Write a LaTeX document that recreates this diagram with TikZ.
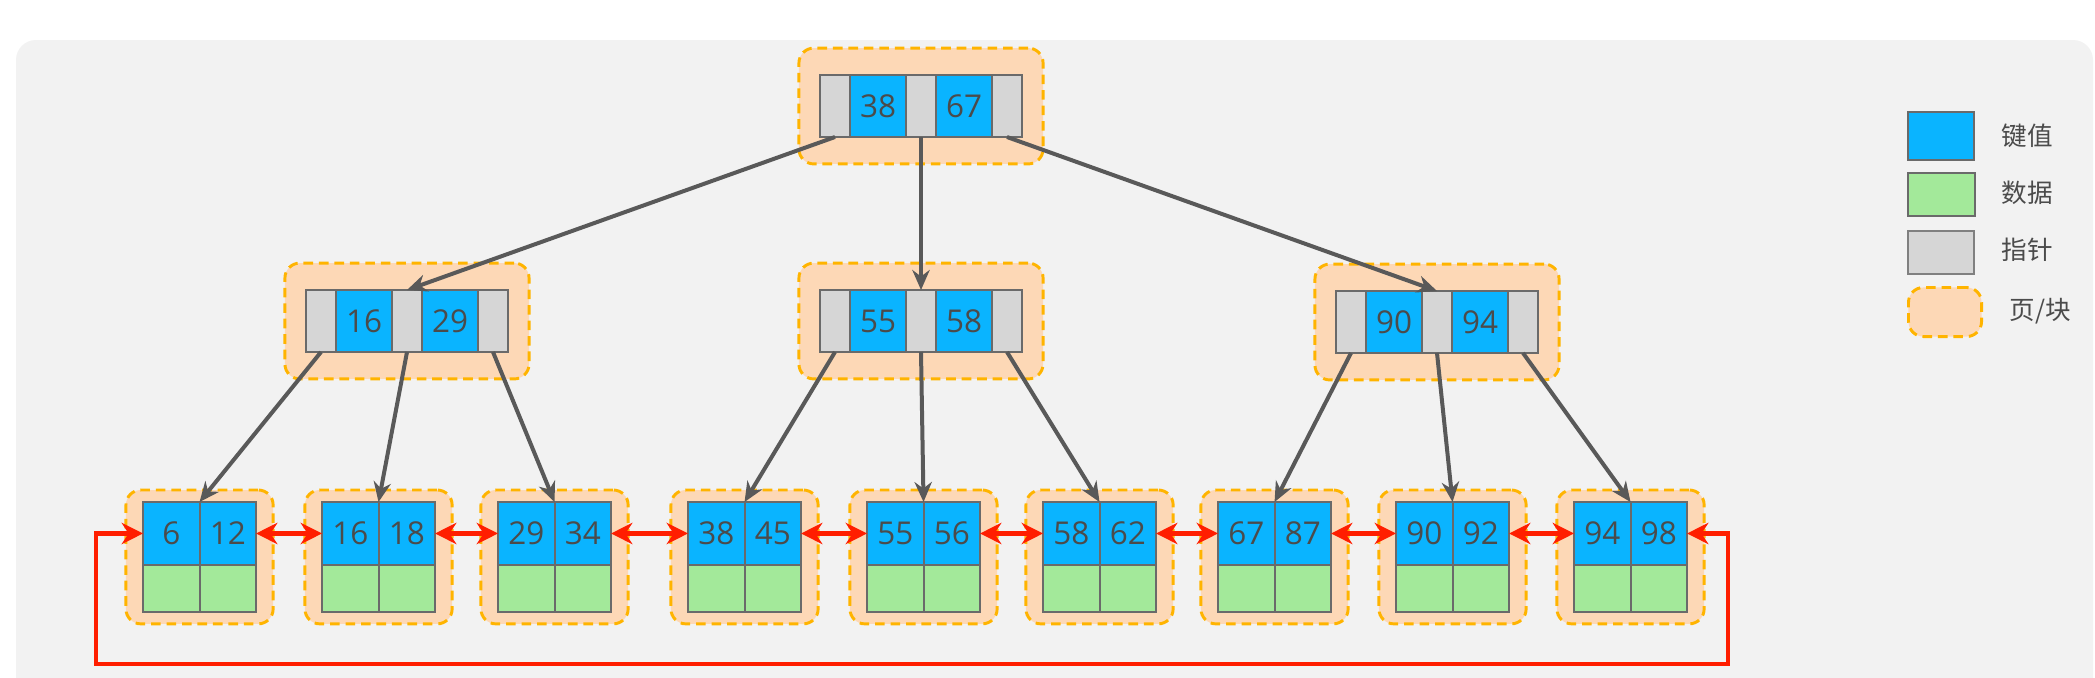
\documentclass[tikz,border=0pt]{standalone}
\usepackage{fontspec}
\setmainfont{Open Sans}
\newfontfamily\cjk{Noto Sans CJK SC}
\usetikzlibrary{positioning,fit,backgrounds,arrows.meta}
\definecolor{keyblue}{HTML}{0AB4FF}
\definecolor{datgreen}{HTML}{A3E99A}
\definecolor{ptrgray}{HTML}{D6D6D6}
\definecolor{pagefill}{HTML}{FDD8B6}
\definecolor{pagedash}{HTML}{FFB400}
\definecolor{cellline}{HTML}{6A6A6A}
\definecolor{edgegray}{HTML}{595959}
\definecolor{linkred}{HTML}{FF1E00}
\definecolor{bggray}{HTML}{F2F2F2}
\definecolor{txt}{HTML}{4B4B4B}

\tikzset{
  cell/.style={draw=cellline, line width=0.75pt, inner sep=0pt, outer sep=0pt,
    text=txt, font=\fontsize{11.8}{14}\selectfont},
  key/.style={cell, fill=keyblue, minimum width=21pt, minimum height=23.25pt},
  ptr/.style={cell, fill=ptrgray, minimum width=11.25pt, minimum height=23.25pt},
  lkey/.style={cell, fill=keyblue, minimum width=21.2pt, minimum height=23.6pt},
  ldat/.style={cell, fill=datgreen, minimum width=21.2pt, minimum height=17.6pt},
  page/.style={fill=pagefill, draw=pagedash, line width=1.1pt,
    dash pattern=on 3.6pt off 2.2pt, rounded corners=5.6pt},
  edge/.style={draw=edgegray, line width=1.5pt, -{Stealth[length=7.5pt,width=6.5pt]}},
  link/.style={draw=linkred, line width=1.6pt, {Stealth[length=8pt,width=8pt]}-{Stealth[length=8pt,width=8pt]}},
  legtext/.style={text=txt, font=\cjk\fontsize{9.6}{11}\selectfont}
}

% inner node: name, x, y, key 1, key 2
\newcommand{\inode}[5]{%
  \node[ptr, anchor=west] (#1-p1) at (#2,#3) {};
  \node[key, right=0pt of #1-p1] (#1-k1) {#4};
  \node[ptr, right=0pt of #1-k1] (#1-p2) {};
  \node[key, right=0pt of #1-p2] (#1-k2) {#5};
  \node[ptr, right=0pt of #1-k2] (#1-p3) {};
  \begin{scope}[on background layer]
    \node[page, inner xsep=7.9pt, inner ysep=10.1pt, fit=(#1-p1)(#1-p3)] (#1) {};
  \end{scope}
}
% leaf node: name, x, y, key 1, key 2
\newcommand{\leaf}[5]{%
  \node[lkey, anchor=north west] (#1-k1) at (#2,#3) {#4};
  \node[lkey, right=0pt of #1-k1] (#1-k2) {#5};
  \node[ldat, below=0pt of #1-k1] (#1-d1) {};
  \node[ldat, below=0pt of #1-k2] (#1-d2) {};
  \begin{scope}[on background layer]
    \node[page, inner xsep=6.4pt, inner ysep=4.5pt, fit=(#1-k1)(#1-d2)] (#1) {};
  \end{scope}
}

\begin{document}
\begin{tikzpicture}[x=0.375pt, y=-0.375pt]
\clip (0,0) rectangle (2095,677);
\begin{scope}[on background layer]
  \fill[white] (0,0) rectangle (2095,677);
  \fill[bggray, rounded corners=7.5pt] (16,40) rectangle (2093,720);
\end{scope}

% root
\inode{root}{820}{106}{38}{67}

% middle level
\inode{m1}{306}{321}{16}{29}
\inode{m2}{820}{321}{55}{58}
\inode{m3}{1336}{322}{90}{94}

% leaves
\foreach \n/\x/\a/\b in {1/143/6/12, 2/322/16/18, 3/498/29/34, 4/688/38/45,
    5/867/55/56, 6/1043/58/62, 7/1218/67/87, 8/1396/90/92, 9/1574/94/98}
  \leaf{l\n}{\x}{502}{\a}{\b};

% root -> middle
\draw[edge] (root-p1.south) -- (m1-p2.north);
\draw[edge] (root-p2.south) -- (m2-p2.north);
\draw[edge] (root-p3.south) -- (m3-p2.north);

% middle -> leaves
\foreach \m/\a/\b/\c in {m1/l1/l2/l3, m2/l4/l5/l6, m3/l7/l8/l9} {
  \draw[edge] (\m-p1.south) -- (\a-k1.north east);
  \draw[edge] (\m-p2.south) -- (\b-k1.north east);
  \draw[edge] (\m-p3.south) -- (\c-k1.north east);
}

% leaf links
\foreach \i/\j in {1/2, 2/3, 3/4, 4/5, 5/6, 6/7, 7/8, 8/9}
  \draw[link] (l\i-k2.east) -- (l\j-k1.west);

% loop back
\coordinate (loop se) at (1728,664);
\coordinate (loop sw) at (96,664);
\draw[link] (l9-k2.east) -| (loop se) -- (loop sw) |- (l1-k1.west);

% legend
\node[cell, fill=keyblue, minimum width=24.75pt, minimum height=18pt, anchor=north west] (lg-key) at (1908,112) {};
\node[cell, fill=datgreen, minimum width=25pt, minimum height=16.1pt, anchor=north west] (lg-dat) at (1908,173) {};
\node[cell, fill=ptrgray, draw=gray, minimum width=24.75pt, minimum height=16.1pt, anchor=north west] (lg-ptr) at (1908,231) {};
\node[page, minimum width=27.4pt, minimum height=18.4pt, anchor=north west] (lg-page) at (1907,286) {};
\node[legtext, anchor=west] (lg-key-t) at (1992,136) {键值};
\node[legtext, anchor=west] (lg-dat-t) at (1992,193) {数据};
\node[legtext, anchor=west] (lg-ptr-t) at (1992,250) {指针};
\node[legtext, anchor=west] (lg-page-t) at (2000,311) {页/块};
\end{tikzpicture}
\end{document}
